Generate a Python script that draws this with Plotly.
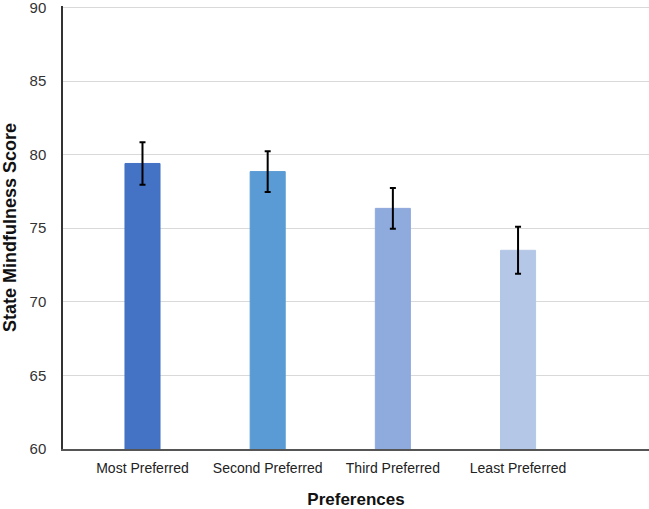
import plotly.graph_objects as go

categories = ["Most Preferred", "Second Preferred", "Third Preferred", "Least Preferred"]
scores = [79.4, 78.85, 76.35, 73.5]
errors = [1.45, 1.38, 1.38, 1.6]
colors = ["#4472C4", "#5B9BD5", "#8FAADC", "#B4C7E7"]
y_ticks = [60, 65, 70, 75, 80, 85, 90]

fig = go.Figure()
fig.add_trace(go.Bar(
    x=list(range(len(categories))),
    y=scores,
    width=0.28,
    marker=dict(color=colors, line=dict(color=colors, width=1)),
    error_y=dict(type="data", array=errors, visible=True, color="black", thickness=2, width=3),
))

fig.update_layout(
    width=649, height=509,
    margin=dict(l=63, r=0, t=6, b=60),
    plot_bgcolor="white", paper_bgcolor="white",
    font=dict(family="Liberation Sans, Arial, sans-serif", color="#222222"),
    showlegend=False,
    xaxis=dict(
        tickmode="array",
        tickvals=list(range(len(categories))),
        ticktext=categories,
        range=[-0.635, 4.046],
        showline=True, linecolor="#555555", linewidth=1.5,
        showgrid=False, ticks="", zeroline=False,
        tickfont=dict(size=14, color="#222222"),
        ticklabelstandoff=5,
        title=dict(text="<b>Preferences</b>", font=dict(size=17, color="#111111"), standoff=22),
        automargin=False,
    ),
    yaxis=dict(
        range=[60, 90.1],
        tickvals=y_ticks,
        showline=True, linecolor="#333333", linewidth=1.5,
        showgrid=True, gridcolor="#D9D9D9", gridwidth=1,
        ticks="", zeroline=False,
        tickfont=dict(size=15, color="#333333"),
        ticklabelstandoff=12,
        ticklabeloverflow="allow",
        automargin=False,
    ),
    annotations=[dict(
        text="<b>State Mindfulness Score</b>",
        xref="paper", yref="paper", x=(9.5 - 63) / 586, y=0.5,
        xanchor="center", yanchor="middle", textangle=-90, showarrow=False,
        font=dict(size=18, color="#111111"),
    )],
)

fig.write_html("out.html", config={"displayModeBar": False},
               post_script="document.body.style.margin='0';")
